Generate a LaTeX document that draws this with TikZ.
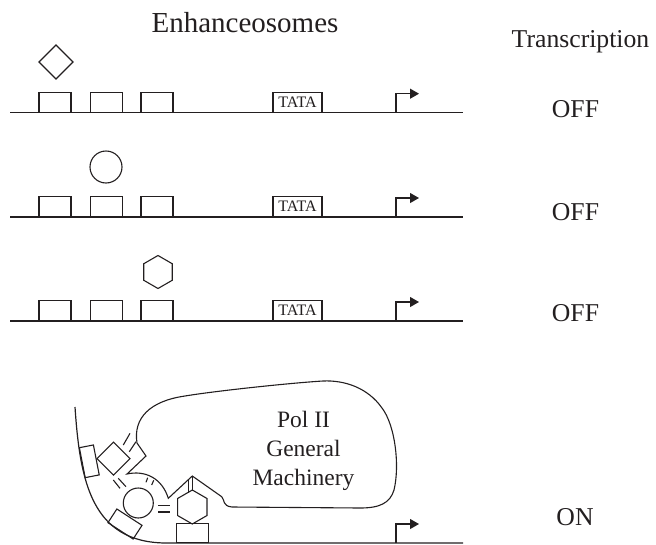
\documentclass[tikz,border=0pt]{standalone}
\usepackage{fontspec}
\setmainfont{Liberation Serif}
\usetikzlibrary{shapes.geometric,arrows.meta}
\definecolor{ink}{RGB}{35,31,32}
\begin{document}
\begin{tikzpicture}[x=1pt,y=-1pt,
  inkline/.style={draw=ink,line width=1.1pt},
  site/.style={inkline,rectangle,minimum width=32pt,minimum height=20pt,inner sep=0pt},
  tata/.style={inkline,rectangle,minimum width=49pt,minimum height=20pt,inner sep=0pt,
    anchor=south,text=ink,font=\fontsize{16}{16}\selectfont},
  dna/.style={draw=ink,line width=1.2pt},
  promoter/.style={draw=ink,line width=1.1pt,-{Triangle[length=9pt,width=10pt]}},
  squarebit/.style={inkline,regular polygon,regular polygon sides=4,shape border rotate=45,
    minimum size=#1,inner sep=0pt},
  hexbit/.style={inkline,regular polygon,regular polygon sides=6,shape border rotate=30,
    minimum size=#1,inner sep=0pt},
  roundbit/.style={inkline,circle,minimum size=#1,inner sep=0pt},
  bond/.style={draw=ink,line width=1.1pt},
  heading/.style={text=ink,anchor=base,inner sep=0pt,font=\fontsize{29}{34}\selectfont},
  state/.style={text=ink,anchor=base,inner sep=0pt,font=\fontsize{25.7}{30}\selectfont},
  machine/.style={text=ink,anchor=base,inner sep=0pt,font=\fontsize{23.5}{28}\selectfont},
]
\useasboundingbox (0,0) rectangle (656,544);

% headings
\node[heading] (head) at (245,32) {Enhanceosomes};
\node[state] (tr) at (580.5,47) {Transcription};

% three inactive promoters, each with one activator bound
\foreach \row/\ly in {1/112.7, 2/217, 3/321} {
  \coordinate (l\row) at (10,\ly);
  \coordinate (r\row) at (463,\ly);
  \draw[dna] (l\row) -- (r\row);
  \node[site,anchor=south] (a\row) at (55,\ly) {};
  \node[site,anchor=south] (b\row) at (106.5,\ly) {};
  \node[site,anchor=south] (c\row) at (157,\ly) {};
  \node[tata] (t\row) at (297.5,\ly) {TATA};
  \coordinate (s\row) at (396,\ly);
  \draw[promoter] (s\row) -- ++(0,-19) -- ++(23,0);
}
\node[squarebit=34pt] (d1) at (56,62) {};
\node[roundbit=32pt] (o2) at (106,167) {};
\node[hexbit=33pt] (h3) at (158,272) {};

\node[state] (off1) at (575.5,117) {OFF};
\node[state] (off2) at (575.5,220) {OFF};
\node[state] (off3) at (575.5,321) {OFF};
\node[state] (on4) at (575,525) {ON};

% active promoter: DNA bent round the enhanceosome
\coordinate (bend) at (75,407);
\coordinate (r4) at (463,543);
\draw[dna] (bend) .. controls (80,482) and (92,542) .. (165,543) -- (r4);
\coordinate (s4) at (396,543);
\draw[promoter] (s4) -- ++(0,-19) -- ++(23,0);

% bound sites and activators
\node[site,minimum width=30.5pt,minimum height=14.3pt,rotate=101] (a4) at (89.3,461.3) {};
\node[site,minimum width=30pt,minimum height=16.3pt,rotate=-33] (b4) at (125,524) {};
\node[site,minimum height=19pt,anchor=south] (c4) at (192.2,543) {};
\node[squarebit=33pt] (d4) at (113.5,458.7) {};
\node[roundbit=30pt] (o4) at (138.3,503) {};
\node[hexbit=34pt] (h4) at (192.3,507) {};

% Pol II general machinery
\draw[inkline] (137,443) -- (146,456) -- (127,474)
  .. controls (145,470) and (162,478) .. (168.3,498.3)
  -- (192.3,476) -- (221.7,496.7)
  .. controls (225,500) and (222,506) .. (232,507)
  -- (360,508)
  .. controls (380,508) and (390,503) .. (394,490)
  .. controls (400,465) and (395,425) .. (382,408)
  .. controls (368,388) and (345,380) .. (323,381)
  .. controls (290,383) and (215,391) .. (185,396)
  .. controls (150,401) and (133,418) .. (137,443);
\node[machine] (pol) at (303.5,427.7) {Pol II};
\node[machine] (gen) at (303.5,456.7) {General};
\node[machine] (mac) at (303.5,485) {Machinery};

% protein--protein contacts
\draw[bond] (123.3,445) -- (130,433.3);
\draw[bond] (129.3,451.7) -- (136,441.7);
\draw[bond] (113.3,480) -- (120,488.3);
\draw[bond] (118.3,478.3) -- (126,486.7);
\draw[bond] (146,482.3) -- (147.7,477.7);
\draw[bond] (151.7,485) -- (153.7,480.3);
\draw[bond] (158.3,505.5) -- (170,505.5);
\draw[bond] (158.3,512) -- (170,512);
\draw[bond] (188.3,479.5) -- (188.3,492.5);
\draw[bond] (192.3,476) -- (192.3,490);
\end{tikzpicture}
\end{document}
